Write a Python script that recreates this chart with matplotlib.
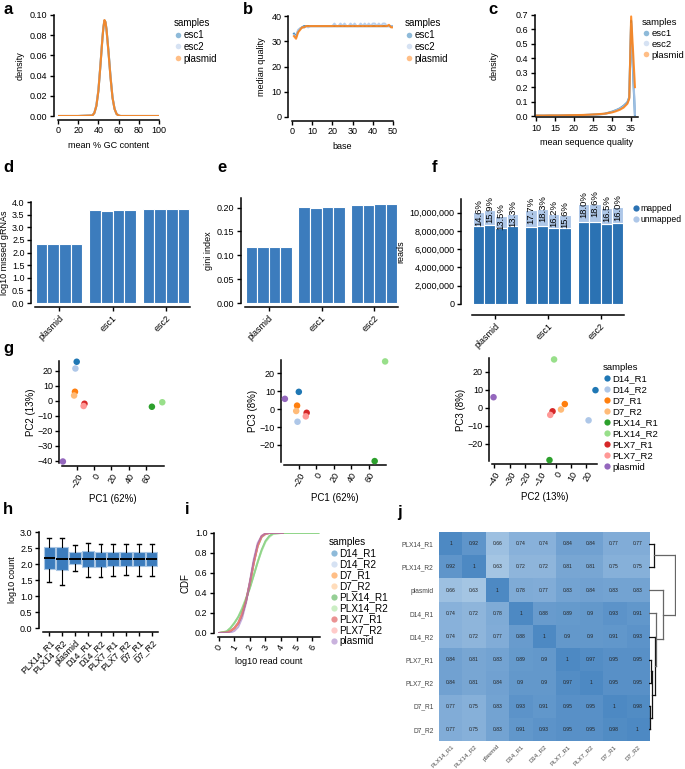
import matplotlib
matplotlib.use("Agg")
import matplotlib.pyplot as plt
from matplotlib.lines import Line2D
from matplotlib.colors import LinearSegmentedColormap
from matplotlib.ticker import FuncFormatter

plt.rcParams['font.family'] = ['Liberation Sans', 'DejaVu Sans']
plt.rcParams['font.size'] = 6.5

# ---------------- data ----------------
qc_samples = ['esc1', 'esc2', 'plasmid']
qc_colors = ['#1f77b4', '#aec7e8', '#ff7f0e']

gc_x = [0, 20, 34, 36, 38, 40, 42, 44, 45, 46, 47, 48, 50, 52, 54, 56, 58, 60, 62, 80, 100]
gc_esc1 = [0, 0, 0.0005, 0.003, 0.01, 0.025, 0.05, 0.077, 0.088, 0.094, 0.093, 0.086, 0.064, 0.039, 0.018, 0.007, 0.002, 0.0005, 0, 0, 0]
gc_esc2 = [0, 0, 0.0005, 0.003, 0.011, 0.026, 0.051, 0.078, 0.089, 0.095, 0.093, 0.085, 0.063, 0.038, 0.018, 0.007, 0.002, 0.0005, 0, 0, 0]
gc_plasmid = [0, 0, 0.0005, 0.003, 0.01, 0.025, 0.05, 0.077, 0.088, 0.095, 0.093, 0.086, 0.063, 0.038, 0.018, 0.007, 0.002, 0.0005, 0, 0, 0]

bases = list(range(1, 51))
medq_esc1 = [33, 32, 34, 35, 35.5, 36, 36, 36, 36, 36,
             36, 36, 36, 36, 36, 36, 36, 36, 36, 36,
             36, 36, 36, 36, 36, 36, 36, 36, 36, 36,
             36, 36, 36, 36, 36, 36, 36, 36, 36, 36,
             36, 36, 36, 36, 36, 36, 36, 36, 36, 36]
medq_esc2 = [32.5, 31.5, 34.5, 35, 35.5, 35.5, 36, 35.5, 36, 36,
             36, 36, 36, 36, 36, 36, 36, 36, 36, 36,
             37, 36, 36, 37, 36, 37, 36, 36, 37, 36,
             37, 36, 36, 37, 36, 37, 36, 37, 36, 37,
             37, 36, 37, 36, 37, 37, 36, 36, 36, 36]
medq_plasmid = [32, 31, 33.5, 34.5, 35.5, 35.5, 36, 36, 36, 36,
                36, 36, 36, 36, 36, 36, 36, 36, 36, 36,
                36, 36, 36, 36, 36, 36, 36, 36, 36, 36,
                36, 36, 36, 36, 36, 36, 36, 36, 36, 36,
                36, 36, 36, 36, 36, 36, 36, 36.5, 35.5, 35.5]

sq_x = [10, 12, 14, 16, 18, 20, 22, 24, 26, 28, 30, 31, 32, 33, 34, 34.5, 35, 35.5, 36]
sq_esc1 = [0.002, 0.002, 0.003, 0.003, 0.004, 0.005, 0.006, 0.008, 0.011, 0.015, 0.03, 0.04, 0.052, 0.07, 0.095, 0.13, 0.66, 0.3, 0.0]
sq_esc2 = [0.002, 0.003, 0.003, 0.004, 0.004, 0.005, 0.006, 0.008, 0.010, 0.014, 0.028, 0.038, 0.05, 0.066, 0.09, 0.125, 0.64, 0.33, 0.01]
sq_plasmid = [0.003, 0.003, 0.004, 0.004, 0.005, 0.006, 0.007, 0.009, 0.012, 0.016, 0.025, 0.033, 0.043, 0.058, 0.085, 0.12, 0.69, 0.45, 0.2]

groups = ['plasmid', 'esc1', 'esc2']
missed_log10 = [[2.33, 2.34, 2.34, 2.34], [3.68, 3.66, 3.69, 3.69], [3.71, 3.71, 3.72, 3.71]]
gini = [[0.117, 0.117, 0.118, 0.117], [0.201, 0.200, 0.202, 0.202], [0.206, 0.206, 0.208, 0.207]]
total_reads = [[10.05e6, 10.3e6, 9.6e6, 9.9e6], [10.3e6, 10.45e6, 9.9e6, 9.8e6], [10.9e6, 11.0e6, 10.5e6, 10.6e6]]
unmapped_pct = [[14.6, 15.9, 13.5, 13.3], [17.7, 18.3, 16.2, 15.6], [18.0, 18.6, 16.5, 16.0]]

samples = ['D14_R1', 'D14_R2', 'D7_R1', 'D7_R2', 'PLX14_R1', 'PLX14_R2', 'PLX7_R1', 'PLX7_R2', 'plasmid']
sample_colors = ['#1f77b4', '#aec7e8', '#ff7f0e', '#ffbb78', '#2ca02c', '#98df8a', '#d62728', '#ff9896', '#9467bd']
pc1 = [-20, -21.5, -22, -23, 67, 79, -11, -12, -36]
pc2 = [26, 21.5, 6, 3.5, -4, -1, -2, -3.5, -40.5]
pc3 = [9.7, -7, 2, -1, -29, 26.7, -2, -4, 5.8]

order = ['PLX14_R1', 'PLX14_R2', 'plasmid', 'D14_R1', 'D14_R2', 'PLX7_R1', 'PLX7_R2', 'D7_R1', 'D7_R2']
box_med = [2.19, 2.17, 2.17, 2.17, 2.16, 2.17, 2.16, 2.16, 2.16]
box_q1 = [1.84, 1.82, 2.00, 1.90, 1.92, 1.94, 1.94, 1.93, 1.93]
box_q3 = [2.52, 2.52, 2.37, 2.41, 2.39, 2.38, 2.38, 2.37, 2.37]
box_lo = [1.43, 1.35, 1.78, 1.58, 1.58, 1.64, 1.65, 1.63, 1.64]
box_hi = [2.81, 2.81, 2.58, 2.65, 2.64, 2.62, 2.61, 2.61, 2.61]

cdf_x = [0, 0.5, 0.75, 1, 1.25, 1.5, 1.75, 2, 2.25, 2.5, 2.75, 3, 3.25, 3.5, 4.1]
cdf_x_long = [0, 0.5, 0.75, 1, 1.25, 1.5, 1.75, 2, 2.25, 2.5, 2.75, 3, 3.25, 3.5, 4, 5, 6.4]
cdf_D14_R1 = [0, 0.005, 0.02, 0.05, 0.10, 0.19, 0.32, 0.50, 0.70, 0.87, 0.96, 0.99, 1, 1, 1]
cdf_D14_R2 = [0, 0.005, 0.02, 0.05, 0.10, 0.19, 0.33, 0.51, 0.71, 0.87, 0.96, 0.99, 1, 1, 1]
cdf_D7_R1 = [0, 0.004, 0.018, 0.045, 0.095, 0.18, 0.32, 0.50, 0.70, 0.87, 0.96, 0.99, 1, 1, 1]
cdf_D7_R2 = [0, 0.004, 0.018, 0.046, 0.096, 0.18, 0.32, 0.51, 0.71, 0.87, 0.96, 0.99, 1, 1, 1]
cdf_PLX14_R1 = [0, 0.015, 0.05, 0.10, 0.16, 0.24, 0.34, 0.45, 0.58, 0.71, 0.83, 0.92, 0.97, 0.995, 1, 1, 1]
cdf_PLX14_R2 = [0, 0.016, 0.05, 0.10, 0.16, 0.25, 0.35, 0.46, 0.58, 0.71, 0.82, 0.91, 0.96, 0.99, 1, 1, 1]
cdf_PLX7_R1 = [0, 0.005, 0.02, 0.05, 0.10, 0.19, 0.32, 0.50, 0.71, 0.88, 0.97, 0.995, 1, 1, 1]
cdf_PLX7_R2 = [0, 0.005, 0.02, 0.05, 0.10, 0.19, 0.32, 0.50, 0.71, 0.88, 0.97, 0.995, 1, 1, 1]
cdf_plasmid = [0, 0.001, 0.005, 0.02, 0.06, 0.15, 0.30, 0.52, 0.74, 0.90, 0.97, 0.995, 1, 1, 1]

corr = [
    [1, 0.92, 0.66, 0.74, 0.74, 0.84, 0.84, 0.77, 0.77],
    [0.92, 1, 0.63, 0.72, 0.72, 0.81, 0.81, 0.75, 0.75],
    [0.66, 0.63, 1, 0.78, 0.77, 0.83, 0.84, 0.83, 0.83],
    [0.74, 0.72, 0.78, 1, 0.88, 0.89, 0.9, 0.93, 0.91],
    [0.74, 0.72, 0.77, 0.88, 1, 0.9, 0.9, 0.91, 0.93],
    [0.84, 0.81, 0.83, 0.89, 0.9, 1, 0.97, 0.95, 0.95],
    [0.84, 0.81, 0.84, 0.9, 0.9, 0.97, 1, 0.95, 0.95],
    [0.77, 0.75, 0.83, 0.93, 0.91, 0.95, 0.95, 1, 0.98],
    [0.77, 0.75, 0.83, 0.91, 0.93, 0.95, 0.95, 0.98, 1],
]
# dendrogram merges (child a, child b, height); new nodes numbered from 9
dendro_merges = [(7, 8, 0.02), (5, 6, 0.03), (9, 10, 0.05), (4, 11, 0.09),
                 (3, 12, 0.11), (2, 13, 0.22), (0, 1, 0.08), (15, 14, 0.39)]

# ---------------- figure ----------------
W, H = 685, 769
fig = plt.figure(figsize=(W / 100, H / 100), dpi=100)


def px_axes(x0, y0, x1, y1):
    return fig.add_axes([x0 / W, 1 - y1 / H, (x1 - x0) / W, (y1 - y0) / H])


def style(ax, off=3):
    for s in ['top', 'right']:
        ax.spines[s].set_visible(False)
    for s in ['left', 'bottom']:
        ax.spines[s].set_position(('outward', off))
        ax.spines[s].set_linewidth(1.1)
    ax.tick_params(direction='out', length=3, width=1, labelsize=6.5, pad=1.5)
    ax.patch.set_alpha(0)


def panel_label(x, y, s):
    fig.text(x / W, 1 - y / H, s, fontsize=12, fontweight='bold', va='center', ha='left')


def fig_legend(ax, handles, labels, x, y, title=None, fs=7, spacing=0.2):
    leg = ax.legend(handles, labels, title=title, loc='upper left',
                    bbox_to_anchor=(x / W, 1 - y / H), bbox_transform=fig.transFigure,
                    frameon=False, fontsize=fs, title_fontsize=fs, handletextpad=0.1,
                    labelspacing=spacing, borderaxespad=0, borderpad=0, handlelength=0.9,
                    alignment='left')
    return leg


def dot(c, alpha=1.0, ms=4):
    return Line2D([], [], marker='o', ls='', color=c, alpha=alpha, markersize=ms, markeredgewidth=0)


# a
ax = px_axes(58, 15, 159, 116)
style(ax)
for ys, c in zip([gc_esc1, gc_esc2, gc_plasmid], qc_colors):
    ax.plot(gc_x, ys, color=c, lw=1.5, alpha=0.85)
ax.set_xlim(0, 100)
ax.set_ylim(0, 0.1)
ax.set_xticks([0, 20, 40, 60, 80, 100])
ax.set_yticks([0, 0.02, 0.04, 0.06, 0.08, 0.10])
ax.yaxis.set_major_formatter(FuncFormatter(lambda v, p: f"{v:.2f}"))
ax.set_xlabel('mean % GC content', fontsize=6.5, labelpad=4)
ax.set_ylabel('density', fontsize=6.5, labelpad=4)
fig_legend(ax, [dot(c, 0.5) for c in qc_colors], qc_samples, 174, 18, title='samples')
panel_label(3, 10, 'a')

# b
ax = px_axes(292, 16, 393, 117)
style(ax)
for ys, c in zip([medq_esc1, medq_esc2, medq_plasmid], qc_colors):
    ax.plot(bases, ys, color=c, lw=1.5, alpha=0.85)
ax.set_xlim(0, 50)
ax.set_ylim(0, 40)
ax.set_xticks([0, 10, 20, 30, 40, 50])
ax.set_yticks([0, 10, 20, 30, 40])
ax.set_xlabel('base', fontsize=6.5, labelpad=4)
ax.set_ylabel('median quality', fontsize=6.5, labelpad=4)
fig_legend(ax, [dot(c, 0.5) for c in qc_colors], qc_samples, 405, 18, title='samples')
panel_label(243, 10, 'b')

# c
ax = px_axes(536, 15, 638, 116)
style(ax, off=1)
for ys, c in zip([sq_esc1, sq_esc2, sq_plasmid], qc_colors):
    ax.plot(sq_x, ys, color=c, lw=1.5, alpha=0.85)
ax.set_xlim(10, 36.8)
ax.set_ylim(0, 0.7)
ax.set_xticks([10, 15, 20, 25, 30, 35])
ax.set_yticks([0, 0.1, 0.2, 0.3, 0.4, 0.5, 0.6, 0.7])
ax.yaxis.set_major_formatter(FuncFormatter(lambda v, p: f"{v:.1f}"))
ax.set_xlabel('mean sequence quality', fontsize=6.5, labelpad=4)
ax.set_ylabel('density', fontsize=6.5, labelpad=12)
fig_legend(ax, [dot(c, 0.5) for c in qc_colors], qc_samples, 642, 18, title='samples', fs=6.8)
panel_label(488, 10, 'c')

# d, e, f bars
bar_blue = '#3c7cbd'
gap = 4.6
xpos = [[g * gap + r for r in range(4)] for g in range(3)]
centers = [g * gap + 1.5 for g in range(3)]


def bar_axes(ax):
    ax.set_xlim(-0.55, 2 * gap + 3.55)
    ax.set_xticks(centers)
    ax.set_xticklabels(groups, rotation=45, ha='right', rotation_mode='anchor', fontsize=6.5)
    ax.tick_params(axis='x', length=3)


ax = px_axes(35, 202, 190, 303)
style(ax)
for g in range(3):
    ax.bar(xpos[g], missed_log10[g], width=1, color=bar_blue, edgecolor='white', lw=0.8)
ax.set_ylim(0, 4)
ax.set_yticks([0, 0.5, 1, 1.5, 2, 2.5, 3, 3.5, 4])
ax.yaxis.set_major_formatter(FuncFormatter(lambda v, p: f"{v:.1f}"))
bar_axes(ax)
ax.set_ylabel('log10 missed gRNAs', fontsize=6.5, labelpad=2)
panel_label(3, 168, 'd')

ax = px_axes(245, 198, 398, 303)
style(ax)
for g in range(3):
    ax.bar(xpos[g], gini[g], width=1, color=bar_blue, edgecolor='white', lw=0.8)
ax.set_ylim(0, 0.22)
ax.set_yticks([0, 0.05, 0.10, 0.15, 0.20])
ax.yaxis.set_major_formatter(FuncFormatter(lambda v, p: f"{v:.2f}"))
bar_axes(ax)
ax.set_ylabel('gini index', fontsize=6.5, labelpad=3)
panel_label(217, 168, 'e')

ax = px_axes(472, 199, 624, 304)
style(ax, off=8)
for g in range(3):
    mapped = [t * (1 - p / 100) for t, p in zip(total_reads[g], unmapped_pct[g])]
    unm = [t - m for t, m in zip(total_reads[g], mapped)]
    ax.bar(xpos[g], mapped, width=1, color='#2b72b3', edgecolor='white', lw=0.8)
    ax.bar(xpos[g], unm, bottom=mapped, width=1, color='#aec7e8', edgecolor='white', lw=0.8)
    for x, t, p in zip(xpos[g], total_reads[g], unmapped_pct[g]):
        ax.text(x, t, f"{p:.1f}%", rotation=90, ha='center', va='center', fontsize=6.8)
ax.set_ylim(0, 11.5e6)
ax.set_yticks([0, 2e6, 4e6, 6e6, 8e6, 10e6])
ax.yaxis.set_major_formatter(FuncFormatter(lambda v, p: f"{int(v):,}"))
bar_axes(ax)
ax.set_ylabel('reads', fontsize=6.5, labelpad=3)
fig_legend(ax, [dot('#2b72b3', 1, 4.5), dot('#aec7e8', 1, 4.5)], ['mapped', 'unmapped'], 632, 204, fs=6.2)
panel_label(432, 168, 'f')

# g PCA
def pca_panel(box, xs, ys, xlim, ylim, xticks, yticks, xl, yl):
    ax = px_axes(*box)
    style(ax, off=2)
    for x, y, c in zip(xs, ys, sample_colors):
        ax.scatter(x, y, s=22, color=c, edgecolor='none', zorder=3, clip_on=False)
    ax.set_xlim(*xlim)
    ax.set_ylim(*ylim)
    ax.set_xticks(xticks)
    ax.set_yticks(yticks)
    ax.tick_params(axis='x', labelrotation=60)
    for t in ax.get_xticklabels():
        t.set_ha('right')
        t.set_rotation_mode('anchor')
    ax.set_xlabel(xl, fontsize=7, labelpad=3)
    ax.set_ylabel(yl, fontsize=7, labelpad=1)
    return ax


pca_panel((62, 361, 164, 463), pc1, pc2, (-37, 81), (-41.5, 26.5),
          [-20, 0, 20, 40, 60], [-40, -30, -20, -10, 0, 10, 20], 'PC1 (62%)', 'PC2 (13%)')
pca_panel((284, 360, 386, 462), pc1, pc3, (-37, 80), (-29.5, 27.5),
          [-20, 0, 20, 40, 60], [-20, -10, 0, 10, 20], 'PC1 (62%)', 'PC3 (8%)')
ax = pca_panel((492, 358, 597, 461), pc2, pc3, (-41.5, 27), (-29.5, 27.5),
               [-40, -30, -20, -10, 0, 10, 20], [-20, -10, 0, 10, 20], 'PC2 (13%)', 'PC3 (8%)')
fig_legend(ax, [dot(c, 1, 4.5) for c in sample_colors], samples, 603, 363, title='samples', fs=6.8, spacing=0.22)
panel_label(3, 348, 'g')

# h boxplot
ax = px_axes(43, 532, 158, 628)
style(ax)
stats = [dict(med=m, q1=a, q3=b, whislo=lo, whishi=hi, label=n)
         for m, a, b, lo, hi, n in zip(box_med, box_q1, box_q3, box_lo, box_hi, order)]
ax.bxp(stats, positions=list(range(9)), widths=0.92, patch_artist=True, showfliers=False,
       boxprops=dict(facecolor=bar_blue, edgecolor='#a9c6e4', lw=0.8),
       medianprops=dict(color='black', lw=1.4),
       whiskerprops=dict(color='black', lw=0.8), capprops=dict(color='black', lw=1.0),
       capwidths=0.3)
ax.set_xlim(-0.5, 8.5)
ax.set_ylim(0, 3)
ax.set_yticks([0, 0.5, 1, 1.5, 2, 2.5, 3])
ax.yaxis.set_major_formatter(FuncFormatter(lambda v, p: f"{v:.1f}"))
ax.set_xticks(list(range(9)))
ax.set_xticklabels(order, rotation=45, ha='right', rotation_mode='anchor', fontsize=6.5)
ax.set_ylabel('log10 count', fontsize=6.5, labelpad=2)
panel_label(3, 510, 'h')

# i CDF
ax = px_axes(218, 533, 320, 633)
style(ax, off=3)
cdf_series = [(cdf_x, cdf_D14_R1), (cdf_x, cdf_D14_R2), (cdf_x, cdf_D7_R1), (cdf_x, cdf_D7_R2),
              (cdf_x_long, cdf_PLX14_R1), (cdf_x_long, cdf_PLX14_R2), (cdf_x, cdf_PLX7_R1),
              (cdf_x, cdf_PLX7_R2), (cdf_x, cdf_plasmid)]
for (xs, ys), c in zip(cdf_series, sample_colors):
    ax.plot(xs, ys, color=c, lw=1.4, alpha=0.55)
ax.set_xlim(-0.05, 6.5)
ax.set_ylim(0, 1)
ax.set_xticks([0, 1, 2, 3, 4, 5, 6])
ax.set_yticks([0, 0.2, 0.4, 0.6, 0.8, 1.0])
ax.yaxis.set_major_formatter(FuncFormatter(lambda v, p: f"{v:.1f}"))
ax.tick_params(axis='x', labelrotation=60)
ax.set_xlabel('log10 read count', fontsize=6.5, labelpad=3)
ax.set_ylabel('CDF', fontsize=7, labelpad=3)
fig_legend(ax, [dot(c, 0.5, 4.5) for c in sample_colors], samples, 329, 537, title='samples', fs=7.2, spacing=0.1)
panel_label(185, 510, 'i')

# j heatmap
cmap = LinearSegmentedColormap.from_list('hb', ['#b9d3eb', '#80acd7', '#4d89c3'])
ax = px_axes(439, 532, 649, 741)
ax.imshow(corr, cmap=cmap, vmin=0.55, vmax=1.0, aspect='auto')
for i in range(9):
    for j in range(9):
        ax.text(j, i, f"{corr[i][j]:g}", ha='center', va='center', fontsize=3.6, color='#222222')
ax.set_xticks(list(range(9)))
ax.set_yticks(list(range(9)))
ax.set_xticklabels(order, rotation=45, ha='right', rotation_mode='anchor', fontsize=4.4, color='#444444')
ax.set_yticklabels(order, fontsize=4.8, color='#444444')
ax.tick_params(axis='y', length=0, pad=4)
ax.tick_params(axis='x', length=0, pad=2)
for s in ax.spines.values():
    s.set_visible(False)
panel_label(397, 512, 'j')

dax = px_axes(649, 532, 676, 741)
pos = {k: float(k) for k in range(9)}
hgt = {k: 0.0 for k in range(9)}
node = 9
for a, b, h in dendro_merges:
    col = '#111111' if h < 0.1 else '#666666'
    dax.plot([hgt[a], h], [pos[a], pos[a]], color=col, lw=0.9)
    dax.plot([hgt[b], h], [pos[b], pos[b]], color=col, lw=0.9)
    dax.plot([h, h], [pos[a], pos[b]], color=col, lw=0.9)
    pos[node] = (pos[a] + pos[b]) / 2
    hgt[node] = h
    node += 1
dax.set_xlim(0, 0.41)
dax.set_ylim(8.5, -0.5)
dax.axis('off')

fig.savefig('out.png', dpi=100)
